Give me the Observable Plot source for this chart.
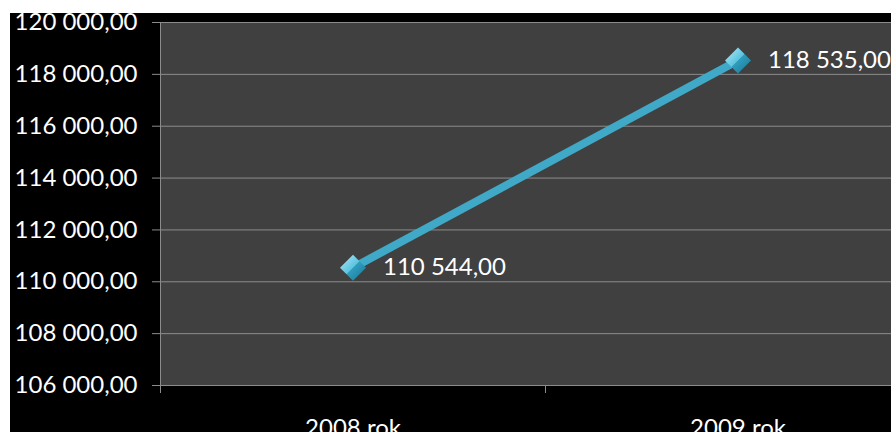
<!DOCTYPE html>
<html><head><meta charset="utf-8">
<script src="https://cdn.jsdelivr.net/npm/d3@7"></script>
<script src="https://cdn.jsdelivr.net/npm/@observablehq/plot@0.6"></script>
<style>
html,body{margin:0;padding:0;background:#fff;width:891px;height:432px;overflow:hidden;}
#chart{position:absolute;left:10px;top:13px;width:881px;height:419px;overflow:hidden;background:#000;}
#chart svg{display:block;}
</style></head><body><div id="chart"></div>
<script>
const categories = ["2008 rok", "2009 rok"];
const values = [110544, 118535];
const yTicks = [106000, 108000, 110000, 112000, 114000, 116000, 118000, 120000];

const data = categories.map((c, i) => ({year: c, value: values[i]}));
const pl = d3.formatLocale({decimal: ",", thousands: " ", grouping: [3], currency: ["", " zł"]});
const fmt = pl.format(",.2f");

const W = 881, H = 419;
const gridColor = "#8c8c8c";
const chart = Plot.plot({
  width: W, height: H,
  marginLeft: 150, marginTop: 9, marginBottom: 47, marginRight: 0,
  style: {background: "#000", color: "#fff", fontFamily: "Lato, 'Open Sans', sans-serif", fontSize: "24px", overflow: "hidden"},
  x: {type: "band", domain: categories, range: [150, 920], padding: 0, label: null},
  y: {domain: [yTicks[0], yTicks[yTicks.length - 1]], label: null},
  marks: [
    Plot.frame({fill: "#404040", stroke: null}),
    Plot.gridY(yTicks, {stroke: gridColor, strokeOpacity: 1, strokeWidth: 1}),
    Plot.axisY(yTicks, {tickSize: 8, tickPadding: 15, tickFormat: fmt, stroke: gridColor, fill: "#fff", fontSize: 24, label: null}),
    Plot.axisX({tickSize: 0, tickPadding: 33, fill: "#fff", fontSize: 24, label: null}),
    Plot.ruleY([yTicks[0]], {stroke: gridColor}),
    Plot.frame({anchor: "left", stroke: gridColor}),
    Plot.line(data, {x: "year", y: "value", stroke: "#3fa9c7", strokeWidth: 8}),
    Plot.dot(data, {x: "year", y: "value", symbol: "diamond2", r: 11.7, fill: "url(#diamondGrad)", stroke: null}),
    Plot.text(data, {x: "year", y: "value", text: d => fmt(d.value), dx: 30, textAnchor: "start", fill: "#fff", fontSize: 24})
  ]
});

const svg = d3.select(chart);
const defs = svg.insert("defs", ":first-child");
const g = defs.append("linearGradient").attr("id", "diamondGrad")
  .attr("x1", 0).attr("y1", 0).attr("x2", 1).attr("y2", 1);
[["0", "#b4ecf8"], ["0.49", "#5cc3df"], ["0.51", "#2f9cbd"], ["1", "#1b7692"]]
  .forEach(([o, c]) => g.append("stop").attr("offset", o).attr("stop-color", c));

// category boundary ticks on the bottom axis, from the x scale's band edges
const sx = chart.scale("x");
const sy = chart.scale("y");
const yb = sy.apply(yTicks[0]);
const edges = d3.range(sx.domain.length + 1).map(i => sx.range[0] + i * sx.step);
svg.append("g").attr("stroke", gridColor)
  .selectAll("line").data(edges).join("line")
  .attr("x1", d => d + 0.5).attr("x2", d => d + 0.5)
  .attr("y1", yb).attr("y2", yb + 8);

document.getElementById("chart").appendChild(chart);
</script></body></html>
